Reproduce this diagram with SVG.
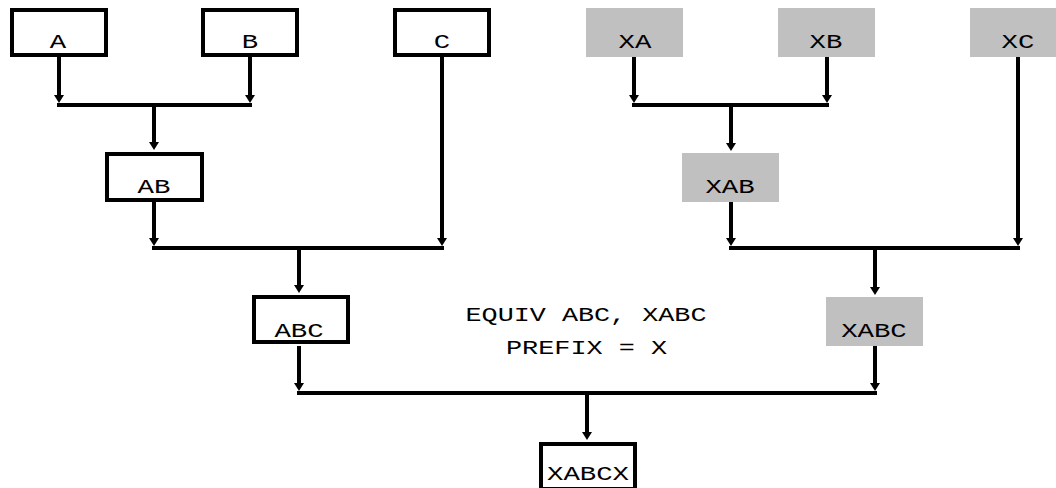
<svg xmlns="http://www.w3.org/2000/svg" width="1056" height="488" viewBox="0 0 1056 488">
<defs>
<style>
.bx{fill:#fff;stroke:#000;stroke-width:4}
.gx{fill:#c0c0c0;stroke:none}
.t{font-family:"Liberation Mono","Courier New",monospace;font-size:20px;fill:#000;text-anchor:middle}
.ln{fill:none;stroke:#000;stroke-width:4}
.ar{fill:none;stroke:#000;stroke-width:4;marker-end:url(#ah)}
</style>
<marker id="ah" viewBox="0 0 8 10" refX="2" refY="5" markerWidth="8" markerHeight="10" markerUnits="userSpaceOnUse" orient="auto">
<path d="M0,0 L8,5 L0,10 z" fill="#000"/>
</marker>
</defs>
<rect width="1056" height="488" fill="#fff"/>
<g id="connectors">
<path class="ar" d="M59,57 V97"/>
<path class="ar" d="M250,57 V97"/>
<path class="ln" d="M57,105 H252"/>
<path class="ar" d="M154,105 V144"/>
<path class="ar" d="M154,202 V240"/>
<path class="ar" d="M442,57 V240"/>
<path class="ln" d="M152,248 H444"/>
<path class="ar" d="M299,248 V287"/>
<path class="ar" d="M299,346 V385"/>
<path class="ln" d="M297,393 H877"/>
<path class="ar" d="M587,393 V434"/>
<path class="ar" d="M634,57 V97"/>
<path class="ar" d="M827,57 V97"/>
<path class="ln" d="M632,105 H829"/>
<path class="ar" d="M731,105 V145"/>
<path class="ar" d="M731,202 V240"/>
<path class="ar" d="M1018,57 V240"/>
<path class="ln" d="M729,248 H1020"/>
<path class="ar" d="M875,248 V289"/>
<path class="ar" d="M875,346 V385"/>
</g>
<g id="A"><rect class="bx" x="12" y="10" width="94" height="45"/><text class="t" x="58" y="48" textLength="16.4" lengthAdjust="spacingAndGlyphs">A</text></g>
<g id="B"><rect class="bx" x="203" y="10" width="94" height="45"/><text class="t" x="250" y="48" textLength="16.4" lengthAdjust="spacingAndGlyphs">B</text></g>
<g id="C"><rect class="bx" x="395" y="10" width="94" height="45"/><text class="t" x="442" y="48" textLength="16.4" lengthAdjust="spacingAndGlyphs">C</text></g>
<g id="AB"><rect class="bx" x="107" y="154" width="95" height="46"/><text class="t" x="154" y="193" textLength="32.8" lengthAdjust="spacingAndGlyphs">AB</text></g>
<g id="ABC"><rect class="bx" x="254" y="297" width="94" height="45"/><text class="t" x="299" y="337" textLength="49.2" lengthAdjust="spacingAndGlyphs">ABC</text></g>
<g id="XABCX"><rect class="bx" x="541" y="444" width="94" height="45"/><text class="t" x="588" y="480" textLength="82" lengthAdjust="spacingAndGlyphs">XABCX</text></g>
<g id="XA"><rect class="gx" x="586" y="8" width="97" height="49"/><text class="t" x="635" y="48" textLength="32.8" lengthAdjust="spacingAndGlyphs">XA</text></g>
<g id="XB"><rect class="gx" x="778" y="8" width="97" height="49"/><text class="t" x="826" y="48" textLength="32.8" lengthAdjust="spacingAndGlyphs">XB</text></g>
<g id="XC"><rect class="gx" x="970" y="8" width="97" height="49"/><text class="t" x="1018" y="48" textLength="32.8" lengthAdjust="spacingAndGlyphs">XC</text></g>
<g id="XAB"><rect class="gx" x="682" y="153" width="97" height="49"/><text class="t" x="730" y="193" textLength="49.2" lengthAdjust="spacingAndGlyphs">XAB</text></g>
<g id="XABC"><rect class="gx" x="826" y="297" width="97" height="49"/><text class="t" x="874" y="337" textLength="65.6" lengthAdjust="spacingAndGlyphs">XABC</text></g>
<g id="note">
<text class="t" x="586" y="321" textLength="241" lengthAdjust="spacingAndGlyphs">EQUIV ABC, XABC</text>
<text class="t" x="586.5" y="354" textLength="161" lengthAdjust="spacingAndGlyphs">PREFIX = X</text>
</g>
</svg>
